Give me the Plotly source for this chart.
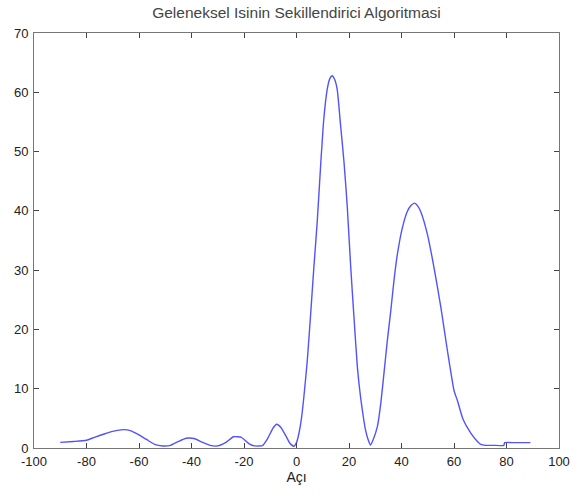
import plotly.graph_objects as go

# Beam pattern sampled across the steering angle (degrees)
angle = [-90, -85, -80, -77, -73, -70, -66, -63, -60, -57, -54, -51, -48, -45,
         -42, -39, -36, -33, -30, -27, -24, -21, -18, -16, -13, -11, -9, -7.6,
         -6, -4, -2.5, -1.0, 0.0, 0.9, 1.8, 2.8, 4.1, 5.3, 6.6, 7.9, 9.2, 10.4,
         11.7, 12.7, 13.6, 14.5, 15.5, 16.8, 18.1, 19.3, 20.6, 21.9, 23.2, 24.4,
         25.4, 26.3, 27.3, 28.2, 29.3, 30.8, 32.1, 33.3, 34.6, 35.9, 37.1, 38.4,
         40.3, 42.2, 43.6, 45.0, 46.2, 47.3, 49.9, 52.4, 55.0, 57.5, 60.0, 61.3,
         63.4, 66.4, 69.0, 70.2, 72, 75, 79.0, 79.3, 83, 86, 89.1]
amplitude = [0.95, 1.1, 1.3, 1.8, 2.4, 2.8, 3.1, 2.9, 2.2, 1.4, 0.6, 0.35, 0.45, 1.1,
             1.65, 1.6, 1.0, 0.45, 0.35, 0.9, 1.9, 1.8, 0.7, 0.35, 0.4, 1.6, 3.3, 4.0,
             3.5, 2.0, 0.8, 0.3, 0.9, 2.4, 4.7, 8.6, 14.7, 22.0, 30.4, 38.2, 47.7, 55.5,
             60.5, 62.3, 62.8, 62.2, 60.5, 54.4, 48.2, 41.0, 30.9, 22.0, 13.6, 8.6,
             5.4, 3.0, 1.4, 0.5, 1.5, 3.6, 7.5, 12.5, 18.1, 23.1, 28.1, 32.6,
             37.1, 39.9, 40.9, 41.3, 40.8, 39.9, 36.0, 30.4, 23.7, 16.4, 9.7, 8.0,
             4.9, 2.5, 1.05, 0.6, 0.45, 0.45, 0.45, 0.9, 0.9, 0.9, 0.9]

x_ticks = [-100, -80, -60, -40, -20, 0, 20, 40, 60, 80, 100]
y_ticks = [0, 10, 20, 30, 40, 50, 60, 70]

FONT = "Liberation Sans, Arial, sans-serif"

fig = go.Figure()
fig.add_trace(go.Scatter(
    x=angle, y=amplitude, mode="lines",
    line=dict(color="#5252ff", width=1.4, shape="spline", smoothing=0.5),
    hoverinfo="skip", showlegend=False,
))

tick_font = dict(family=FONT, size=13, color="#222222")

fig.update_layout(
    width=574, height=498,
    margin=dict(l=34, r=15, t=33, b=50, autoexpand=False),
    paper_bgcolor="white", plot_bgcolor="white",
    title=dict(
        text="Geleneksel Isinin Sekillendirici Algoritmasi",
        x=296.5 / 574, xanchor="center",
        y=1 - 13 / 498, yanchor="middle",
        font=dict(family=FONT, size=15.5, color="#444444"),
    ),
    xaxis=dict(
        range=[-100, 100], tickvals=x_ticks, ticktext=[str(v) for v in x_ticks],
        ticks="inside", ticklen=5, tickcolor="#444444", tickwidth=1,
        showline=True, linecolor="#777777", linewidth=1, mirror="ticks",
        showgrid=False, zeroline=False, tickfont=tick_font, automargin=False,
        ticklabelstandoff=1,
        title=dict(text="Açı", font=dict(family=FONT, size=14, color="#222222"),
                   standoff=4),
    ),
    yaxis=dict(
        range=[0, 70], tickvals=y_ticks, ticktext=[str(v) for v in y_ticks],
        ticks="inside", ticklen=5, tickcolor="#444444", tickwidth=1,
        showline=True, linecolor="#777777", linewidth=1, mirror="ticks",
        showgrid=False, zeroline=True, zerolinecolor="black", zerolinewidth=3,
        tickfont=tick_font, ticklabelstandoff=2, automargin=False,
    ),
)

fig.write_html("out.html")
